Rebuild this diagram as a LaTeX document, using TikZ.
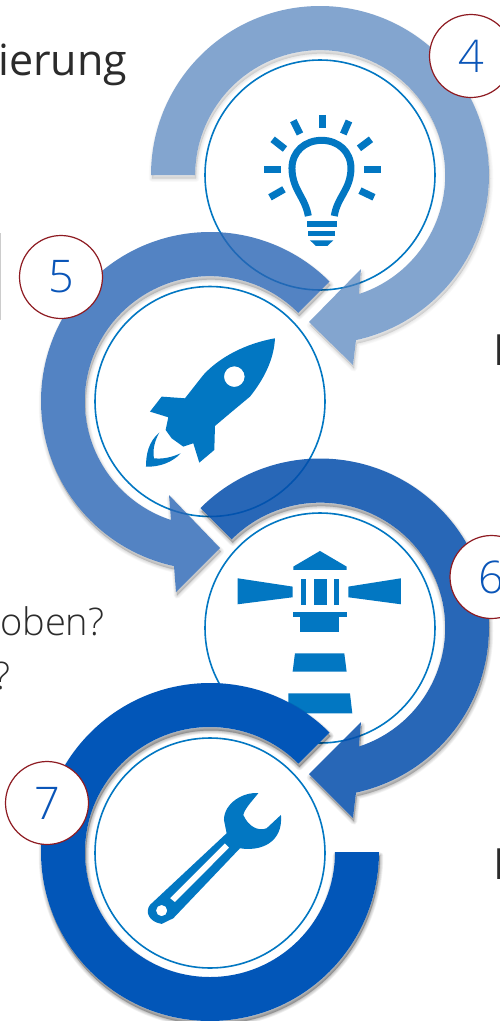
\documentclass[tikz,border=0pt]{standalone}
\usepackage{fontspec}
\setmainfont{Open Sans}
\newfontfamily\oslight{Open Sans Light}
\definecolor{iconblue}{HTML}{0277C2}
\definecolor{ringA}{RGB}{79,128,188}
\definecolor{ringB}{RGB}{40,101,180}
\definecolor{ringC}{RGB}{3,77,171}
\definecolor{ringD}{HTML}{0256B8}
\definecolor{badgered}{HTML}{8E1B22}
\definecolor{badgeblue}{HTML}{0A55B8}
\definecolor{inktext}{HTML}{2B2B2B}
\tikzset{
  icon/.style={fill=iconblue,draw=none},
  iconline/.style={draw=iconblue,line width=7pt,line cap=butt},
  disc/.style={draw=iconblue,line width=1.6pt,fill=none},
  badge/.style={circle,draw=badgered,line width=1.2pt,fill=white,minimum size=83pt,inner sep=0pt,text=badgeblue,font=\oslight\fontsize{45}{50}\selectfont},
  label/.style={anchor=base west,inner sep=0pt,font=\fontsize{43}{50}\selectfont,text=inktext},
  softlabel/.style={anchor=base west,inner sep=0pt,font=\oslight\fontsize{38}{44}\selectfont,text=inktext},
}
\def\ringfour{(320,175) ++(180:169) arc[start angle=180,end angle=437.7,radius=169] -- (353,365) -- (309,322) -- (361,269) -- (359,294) arc[start angle=431.9,end angle=180,radius=125] -- cycle}
\def\ringfive{(210,401) ++(315:169) arc[start angle=315,end angle=102.3,radius=169] -- (176,592) -- (220,548) -- (169,495) -- (171,520) arc[start angle=108.1,end angle=315,radius=125] -- cycle}
\def\ringsix{(320,627.5) ++(225:169) arc[start angle=225,end angle=437.7,radius=169] -- (353,818) -- (309,774) -- (361,722) -- (359,746.5) arc[start angle=431.9,end angle=225,radius=125] -- cycle}
\def\ringseven{(210,852) ++(315:169) arc[start angle=315,end angle=0,radius=169] -- ++(-44,0) arc[start angle=0,end angle=315,radius=125] -- cycle}
% #1 path, #2 colour, #3 fill opacity, #4 strength of one shadow step
\newcommand\ringlayer[4]{%
  \begin{scope}[even odd rule]
    \clip (-50,-50) rectangle (560,1080) #1;
    \foreach \w in {6.5,5,3.5,2,.5}{
      \filldraw[black,opacity=#4,nonzero rule,line width=\w pt,line join=round,shift={(1,3.5)}] #1;
    }
  \end{scope}
  \fill[#2,fill opacity=#3] #1;
}
\begin{document}
\begin{tikzpicture}[x=1pt,y=-1pt]
\useasboundingbox (0,0) rectangle (499,1021);
\fill[white] (0,0) rectangle (499,1021);
% clipped remains of the slide text
\fill[black!20] (0,233) rectangle (1,320);
\node[label] (title) at (-2,75) {ierung};
\node[softlabel] (oben) at (0,635) {oben?};
\node[softlabel] (mark) at (-6,689) {?};
\node[label] (stemA) at (493,365) {I};
\node[label] (stemB) at (493,879) {I};
% --- four: bulb
\draw[disc] (320,175) circle[radius=115];
\begin{scope}[x=.3333pt,y=-.3333pt]
  \draw[draw=iconblue,line width=7pt,line join=round]
    (925,648) .. controls (915,590) and (877,570) .. (876,505)
    .. controls (876,455) and (915,421) .. (965,421)
    .. controls (1015,421) and (1053,455) .. (1053,505)
    .. controls (1052,570) and (1012,590) .. (1003,648);
  \foreach \a/\b in {{(967,345)/(967,385)},{(1047,363)/(1030,402)},{(1113,418)/(1077,445)},{(1093,508)/(1142,508)},{(1080,572)/(1122,592)},{(793,508)/(842,508)},{(852,568)/(810,592)},{(818,418)/(855,447)},{(880,362)/(900,402)}}{
    \draw[iconline] \a -- \b;
  }
  \fill[icon] (922,663) rectangle (1010,680);
  \fill[icon] (925,692) rectangle (1006,709);
  \fill[icon] (930,721) -- (1000,721) -- (982,738) -- (948,738) -- cycle;
\end{scope}
\ringlayer{\ringfour}{ringA}{.7}{.02}
% --- five: rocket
\draw[disc] (210,401.5) circle[radius=115];
\begin{scope}[x=.3333pt,y=-.3333pt,shift={(0,1020)}]
  \fill[icon,even odd rule]
    (825,-5) .. controls (822,60) and (790,120) .. (750,170)
    -- (690,220) -- (645,258) -- (643,330) -- (598,368) -- (580,310) -- (550,320) -- (515,295) -- (497,270) -- (505,232) -- (450,215) -- (485,170) -- (555,175)
    -- (610,105) .. controls (660,50) and (740,10) .. (825,-5) -- cycle
    (703,110) circle[radius=31];
  \fill[icon] (478,278) .. controls (445,305) and (438,345) .. (438,380)
    .. controls (480,382) and (520,365) .. (542,340)
    .. controls (515,352) and (490,358) .. (462,355)
    .. controls (457,330) and (465,300) .. (478,278) -- cycle;
\end{scope}
\ringlayer{\ringfive}{ringB}{.8}{.03}
% --- six: lighthouse
\draw[disc] (320,628) circle[radius=115];
\begin{scope}[x=.3333pt,y=-.3333pt,shift={(0,1020)}]
  \fill[icon] (960,633) -- (1040,680) -- (1040,690) -- (880,690) -- (880,680) -- cycle;
  \fill[icon] (713,715) -- (878,740) -- (878,772) -- (713,793) -- cycle;
  \fill[icon] (1203,715) -- (1045,740) -- (1045,772) -- (1203,793) -- cycle;
  \fill[icon] (902,717) rectangle (918,795);
  \fill[icon] (942,717) rectangle (980,795);
  \fill[icon] (1002,717) rectangle (1018,795);
  \fill[icon] (878,815) rectangle (1040,832);
  \fill[icon] (900,832) rectangle (1018,875);
  \fill[icon] (885,940) -- (1033,940) -- (1040,995) -- (878,995) -- cycle;
  \fill[icon] (865,1060) -- (1050,1060) -- (1057,1120) -- (865,1120) -- cycle;
\end{scope}
\ringlayer{\ringsix}{ringC}{.85}{.045}
% --- seven: wrench
\draw[disc] (210,853) circle[radius=115];
\begin{scope}[x=.3333pt,y=-.3333pt,shift={(0,2040)}]
  \fill[icon,even odd rule]
    (775,340) .. controls (730,335) and (672,370) .. (672,420)
    -- (680,460) -- (450,675)
    .. controls (435,695) and (445,725) .. (485,732)
    -- (520,715) -- (720,505)
    .. controls (780,515) and (850,490) .. (843,405)
    -- (800,445) .. controls (775,455) and (745,440) .. (730,405)
    .. controls (735,385) and (755,365) .. (775,340) -- cycle
    (675,490) -- (688,503) -- (525,667) -- (510,655) -- cycle
    (485,692) circle[radius=17];
\end{scope}
\ringlayer{\ringseven}{ringD}{1}{.055}
% --- badges
\node[badge] (four) at (471,56) {4};
\node[badge] (five) at (61,277) {5};
\node[badge] (six) at (491.5,577) {6};
\node[badge] (seven) at (47,803) {7};
\end{tikzpicture}
\end{document}
